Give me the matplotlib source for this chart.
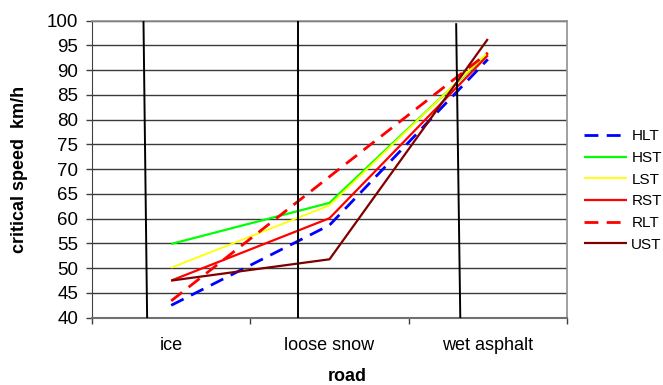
import matplotlib
matplotlib.use("Agg")
import matplotlib.pyplot as plt
from matplotlib.ticker import FixedLocator, NullFormatter

plt.rcParams["font.family"] = ["Liberation Sans", "DejaVu Sans"]

roads = ["ice", "loose snow", "wet asphalt"]
series_names = ["HLT", "HST", "LST", "RST", "RLT", "UST"]
hlt = [42.5, 58.7, 92.2]
hst = [54.9, 63.2, 93.4]
lst = [50.1, 62.7, 93.6]
rst = [47.5, 60.1, 93.0]
rlt = [43.4, 68.5, 93.5]
ust = [47.5, 51.8, 96.3]
y_ticks = list(range(40, 101, 5))

# hand-drawn separator strokes: (x at top, y at top, x at bottom, y at bottom)
separators = [(-0.175, 100, -0.152, 40),
              (0.804, 100, 0.804, 40),
              (1.800, 99.3, 1.826, 40)]

styles = {
    "HLT": dict(color="#0000FF", lw=2.0, dashes=(5, 3)),
    "HST": dict(color="#00FF00", lw=1.6),
    "LST": dict(color="#FFFF00", lw=1.3),
    "RST": dict(color="#FF0000", lw=1.6),
    "RLT": dict(color="#FF0000", lw=2.0, dashes=(5, 3)),
    "UST": dict(color="#800000", lw=1.6),
}
values = dict(zip(series_names, [hlt, hst, lst, rst, rlt, ust]))

fig = plt.figure(figsize=(6.63, 3.85), dpi=100)
ax = fig.add_axes([0.1388, 0.1748, 0.7164, 0.7714])

x = list(range(len(roads)))
for name in series_names:
    ax.plot(x, values[name], label=name, solid_capstyle="butt",
            dash_capstyle="butt", zorder=3, **styles[name])

for x0, y0, x1, y1 in separators:
    ax.plot([x0, x1], [y0, y1], color="black", lw=1.4, zorder=4)

ax.set_xlim(-0.5, 2.5)
ax.set_ylim(40, 100)
ax.set_yticks(y_ticks)
ax.tick_params(axis="y", labelsize=13.5, length=4, width=1, pad=6,
               color="#404040")
ax.set_xticks(x)
ax.set_xticklabels(roads)
ax.tick_params(axis="x", which="major", length=0, labelsize=13, pad=14)
ax.xaxis.set_minor_locator(FixedLocator([-0.5, 0.5, 1.5, 2.5]))
ax.xaxis.set_minor_formatter(NullFormatter())
ax.tick_params(axis="x", which="minor", length=4, width=1, color="#404040")

ax.yaxis.grid(True, color="#3a3a3a", lw=1.0, zorder=1)
ax.set_axisbelow(True)
for side in ["top", "right"]:
    ax.spines[side].set_color("#909090")
    ax.spines[side].set_linewidth(1.2)
ax.spines["left"].set_color("#404040")
ax.spines["bottom"].set_color("#707070")
ax.spines["bottom"].set_linewidth(1.5)

ax.set_ylabel("critical speed  km/h", fontsize=13, fontweight="bold")
ax.yaxis.set_label_coords(-0.135, 0.5)
fig.text(347.5 / 663, 1 - 376.7 / 385, "road", fontsize=13,
         fontweight="bold", ha="center", va="center")

fig.legend(loc="center left", bbox_to_anchor=(584 / 663, 1 - 190.5 / 385),
           frameon=False, fontsize=11, handlelength=2.8,
           handletextpad=0.3, labelspacing=0.5, borderpad=0,
           borderaxespad=0)

fig.savefig("out.png", dpi=100)
